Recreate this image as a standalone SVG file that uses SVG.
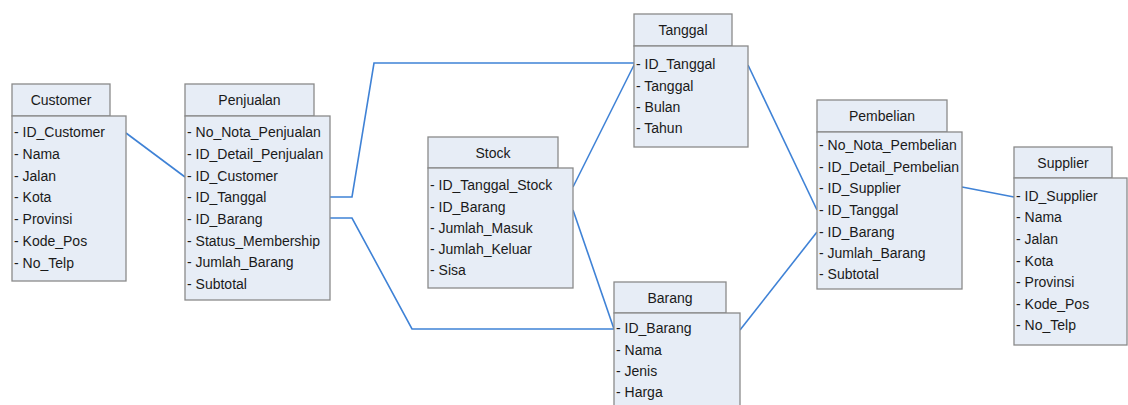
<svg xmlns="http://www.w3.org/2000/svg" width="1128" height="405" viewBox="0 0 1128 405">
<style>
.box{fill:#e7edf6;stroke:#8a8a8a;stroke-width:1.3}
.h{font-family:"Liberation Sans",Arial,sans-serif;font-size:14px;fill:#1a1a1a;text-anchor:middle}
.t{font-family:"Liberation Sans",Arial,sans-serif;font-size:14px;fill:#1a1a1a}
.c{fill:none;stroke:#3f82d6;stroke-width:1.6}
</style>
<rect width="1128" height="405" fill="#ffffff"/>
<g id="connectors">
<polyline class="c" points="126,133 185,177"/>
<polyline class="c" points="330,197 352,197 374,63 635,63"/>
<polyline class="c" points="330,218 352,218 412,329 614,329"/>
<polyline class="c" points="573,187 635,63"/>
<polyline class="c" points="573,210 614,329"/>
<polyline class="c" points="748,65 817,210"/>
<polyline class="c" points="817,232 740,330"/>
<polyline class="c" points="962,187 1014,197"/>
</g>
<g id="customer">
<rect class="box" x="12" y="84" width="98" height="32"/>
<rect class="box" x="12" y="116" width="114" height="165"/>
<text class="h" x="61" y="105">Customer</text>
<text class="t" x="14" y="137">- ID_Customer</text>
<text class="t" x="14" y="159">- Nama</text>
<text class="t" x="14" y="181">- Jalan</text>
<text class="t" x="14" y="202">- Kota</text>
<text class="t" x="14" y="224">- Provinsi</text>
<text class="t" x="14" y="246">- Kode_Pos</text>
<text class="t" x="14" y="268">- No_Telp</text>
</g>
<g id="penjualan">
<rect class="box" x="185" y="84" width="129" height="32"/>
<rect class="box" x="185" y="116" width="145" height="184"/>
<text class="h" x="249.5" y="105">Penjualan</text>
<text class="t" x="187" y="137">- No_Nota_Penjualan</text>
<text class="t" x="187" y="159">- ID_Detail_Penjualan</text>
<text class="t" x="187" y="181">- ID_Customer</text>
<text class="t" x="187" y="202">- ID_Tanggal</text>
<text class="t" x="187" y="224">- ID_Barang</text>
<text class="t" x="187" y="246">- Status_Membership</text>
<text class="t" x="187" y="267">- Jumlah_Barang</text>
<text class="t" x="187" y="289">- Subtotal</text>
</g>
<g id="stock">
<rect class="box" x="428" y="137" width="130" height="31"/>
<rect class="box" x="428" y="168" width="145" height="120"/>
<text class="h" x="493" y="157.5">Stock</text>
<text class="t" x="430" y="190">- ID_Tanggal_Stock</text>
<text class="t" x="430" y="212">- ID_Barang</text>
<text class="t" x="430" y="233">- Jumlah_Masuk</text>
<text class="t" x="430" y="254">- Jumlah_Keluar</text>
<text class="t" x="430" y="275">- Sisa</text>
</g>
<g id="tanggal">
<rect class="box" x="634" y="14" width="98" height="32"/>
<rect class="box" x="634" y="46" width="114" height="101"/>
<text class="h" x="683" y="35">Tanggal</text>
<text class="t" x="636" y="69">- ID_Tanggal</text>
<text class="t" x="636" y="91">- Tanggal</text>
<text class="t" x="636" y="112">- Bulan</text>
<text class="t" x="636" y="133">- Tahun</text>
</g>
<g id="barang">
<rect class="box" x="614" y="282" width="112" height="31"/>
<rect class="box" x="614" y="313" width="126" height="100"/>
<text class="h" x="670" y="302.5">Barang</text>
<text class="t" x="616" y="333">- ID_Barang</text>
<text class="t" x="616" y="355">- Nama</text>
<text class="t" x="616" y="376">- Jenis</text>
<text class="t" x="616" y="397">- Harga</text>
</g>
<g id="pembelian">
<rect class="box" x="817" y="100" width="130" height="32"/>
<rect class="box" x="817" y="132" width="145" height="157"/>
<text class="h" x="882" y="121">Pembelian</text>
<text class="t" x="819" y="150">- No_Nota_Pembelian</text>
<text class="t" x="819" y="172">- ID_Detail_Pembelian</text>
<text class="t" x="819" y="193">- ID_Supplier</text>
<text class="t" x="819" y="215">- ID_Tanggal</text>
<text class="t" x="819" y="237">- ID_Barang</text>
<text class="t" x="819" y="258">- Jumlah_Barang</text>
<text class="t" x="819" y="279">- Subtotal</text>
</g>
<g id="supplier">
<rect class="box" x="1014" y="147" width="98" height="31"/>
<rect class="box" x="1014" y="178" width="113" height="167"/>
<text class="h" x="1063" y="167.5">Supplier</text>
<text class="t" x="1016" y="201">- ID_Supplier</text>
<text class="t" x="1016" y="222">- Nama</text>
<text class="t" x="1016" y="244">- Jalan</text>
<text class="t" x="1016" y="266">- Kota</text>
<text class="t" x="1016" y="287">- Provinsi</text>
<text class="t" x="1016" y="309">- Kode_Pos</text>
<text class="t" x="1016" y="330">- No_Telp</text>
</g>
</svg>
